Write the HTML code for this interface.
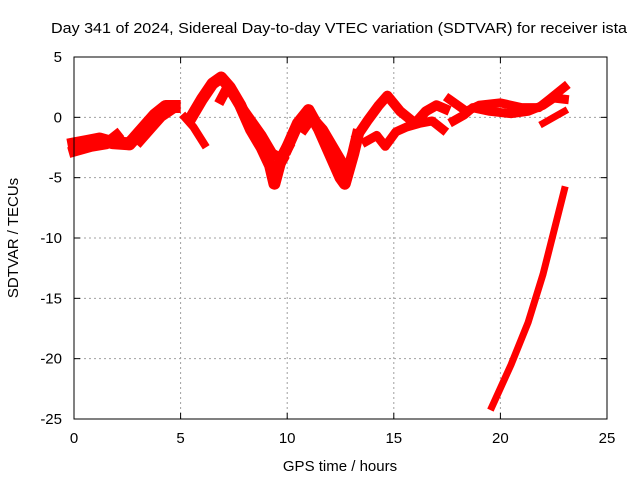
<!DOCTYPE html>
<html><head><meta charset="utf-8"><style>
body{margin:0;background:#fff}
svg{display:block;font-family:"Liberation Sans",sans-serif;font-size:15px}
</style></head><body>
<svg id="c" width="640" height="480">
<text x="339" y="33" text-anchor="middle" textLength="576" lengthAdjust="spacingAndGlyphs">Day 341 of 2024, Sidereal Day-to-day VTEC variation (SDTVAR) for receiver ista</text>
<text transform="translate(18,238) rotate(-90)" text-anchor="middle">SDTVAR / TECUs</text>
<text x="340" y="471" text-anchor="middle">GPS time / hours</text>
<g id="grid"></g><g id="series"></g><g id="axes"></g>
</svg>
<script>
const xTicks=[0,5,10,15,20,25];
const yTicks=[5,0,-5,-10,-15,-20,-25];
const trackA=[[0,-2.2],[0.6,-2],[1.2,-1.8],[1.8,-2.1],[2.6,-2.2],[3.2,-1],[3.8,0.2],[4.3,0.9],[4.7,0.9]];
const trackA2=[[0,-2.8],[0.8,-2.4],[1.5,-2.2],[2,-1.5]];
const trackA3=[[3.1,-2],[3.6,-1],[4.1,0],[4.6,0.6]];
const trackB1=[[5.2,0],[5.6,-0.8],[6.1,-2.2]];
const trackB2=[[5.5,0],[6,1.5],[6.5,2.8],[6.9,3.3],[7.3,2.5],[7.8,1],[8.3,-1],[8.8,-2.5],[9.2,-4],[9.4,-5.5],[9.7,-3.5],[10,-2.5]];
const trackB3=[[6.9,1.5],[7.2,2.5],[7.6,1.5],[8.2,0],[8.8,-1.5],[9.3,-3],[9.8,-3.5]];
const trackC=[[10,-2.5],[10.5,-0.5],[11,0.6],[11.5,-1],[12,-3],[12.5,-5],[12.7,-5.5],[13.1,-3],[13.3,-1.5]];
const trackC2=[[10.8,-1],[11.2,0],[11.7,-1],[12.2,-2.5],[12.7,-4]];
const trackD=[[13.3,-1.5],[13.8,-0.2],[14.3,1],[14.7,1.8],[15.3,0.5],[16,-0.5],[16.5,0.5],[17,1],[17.4,0.7]];
const trackD2=[[13.7,-2],[14.2,-1.5],[14.6,-2.4],[15.1,-1.2],[15.6,-0.8],[16.2,-0.5],[16.8,-0.3],[17.3,-1]];
const trackE=[[17.6,1.5],[18.4,0.5],[19,1],[20,1.2],[21,0.8],[21.8,0.8],[22.3,1.5],[23,2.5]];
const trackE2=[[17.8,-0.3],[18.3,0.2],[18.7,0.8],[19.5,0.5],[20.5,0.3],[21.3,0.5],[22,1],[22.5,1.6],[23,1.5]];
const trackE3=[[22,-0.5],[22.5,0],[23,0.5]];
const trackF=[[19.6,-24],[20.5,-20.5],[21.3,-17],[22,-13],[23,-6]];
const tracks=[trackA,trackA2,trackA3,trackB1,trackB2,trackB3,trackC,trackC2,trackD,trackD2,trackE,trackE2,trackE3,trackF];
const widths=[13,11,9,8,12,10,12,9,10,9,9,9,7,7];
const X0=74,X1=607,Y0=57,Y1=419,xmin=0,xmax=25,ymin=-25,ymax=5;
const sx=h=>X0+(h-xmin)/(xmax-xmin)*(X1-X0);
const sy=v=>Y1-(v-ymin)/(ymax-ymin)*(Y1-Y0);
const NS="http://www.w3.org/2000/svg";
function mk(t,a,p){const e=document.createElementNS(NS,t);for(const k in a)e.setAttribute(k,a[k]);p.appendChild(e);return e;}
const G=document.getElementById('grid'),S=document.getElementById('series'),A=document.getElementById('axes');
xTicks.forEach(t=>{
 const x=sx(t);
 if(t>xmin&&t<xmax){const l=mk('line',{x1:x,x2:x,y1:Y0,y2:Y1,stroke:'#a0a0a0','stroke-dasharray':'2,3'},G);
 
 }
 mk('line',{x1:x,x2:x,y1:Y1,y2:Y1-6,stroke:'#000'},A);
 mk('line',{x1:x,x2:x,y1:Y0,y2:Y0+6,stroke:'#000'},A);
 const tx=mk('text',{x:x,y:443,'text-anchor':'middle'},A);tx.textContent=t;
 
 
});
yTicks.forEach(t=>{
 const y=sy(t);
 if(t>ymin&&t<ymax){const l=mk('line',{x1:X0,x2:X1,y1:y,y2:y,stroke:'#a0a0a0','stroke-dasharray':'2,3'},G);
 
 }
 mk('line',{x1:X0,x2:X0+6,y1:y,y2:y,stroke:'#000'},A);
 mk('line',{x1:X1,x2:X1-6,y1:y,y2:y,stroke:'#000'},A);
 const tx=mk('text',{x:62,y:y+5,'text-anchor':'end'},A);tx.textContent=t;
 
 
});
const fr=mk('rect',{x:X0,y:Y0,width:X1-X0,height:Y1-Y0,fill:'none',stroke:'#000'},A);


tracks.forEach((tr,i)=>{
 const p=mk('polyline',{points:tr.map(d=>sx(d[0])+','+sy(d[1])).join(' '),fill:'none',stroke:'#ff0000','stroke-width':widths[i],'stroke-linejoin':'round','stroke-linecap':'square'},S);
 
 
});
</script>
</body></html>
